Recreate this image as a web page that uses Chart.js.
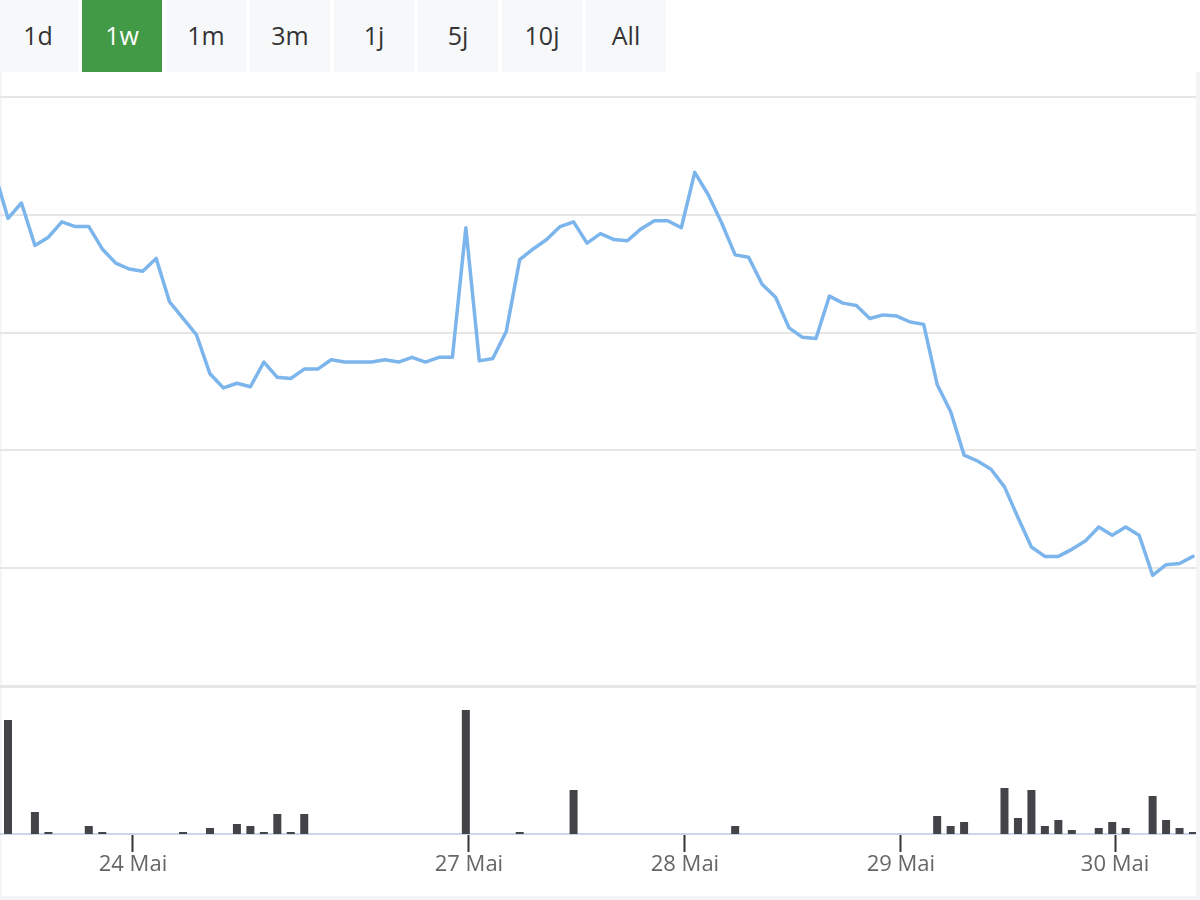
<!DOCTYPE html>
<html>
<head>
<meta charset="utf-8">
<script src="https://cdn.jsdelivr.net/npm/chart.js@4.4.1/dist/chart.umd.min.js"></script>
<style>
html,body{margin:0;padding:0;background:#fff;width:1200px;height:900px;overflow:hidden;font-family:"Open Sans",sans-serif;}
.b{position:absolute;top:0;height:72px;width:80px;background:#f7f8fa;color:#333;font-size:25px;line-height:71px;text-align:center;}
.b.on{background:#439a46;color:#fff;}
.edge{position:absolute;background:#f4f5f7;}
canvas{position:absolute;left:0;}
</style>
</head>
<body>
<div id="btns"></div>
<div class="edge" style="left:0;top:72px;width:2px;height:828px"></div>
<div class="edge" style="left:1196px;top:72px;width:4px;height:828px"></div>
<div class="edge" style="left:0;top:896px;width:1200px;height:4px"></div>
<canvas id="priceChart" width="1196" height="610" style="top:80px"></canvas>
<canvas id="volChart" width="1196" height="209" style="top:687px"></canvas>
<script>
// Range buttons
const rangeButtons = ['1d','1w','1m','3m','1j','5j','10j','All'];
const activeRange = '1w';

// Price series (first value is the point just left of the visible window), gridline units
const prices = [4.36,
  3.97,4.10,3.74,3.81,3.94,3.90,3.90,3.71,3.59,3.54,
  3.52,3.63,3.26,3.12,2.98,2.65,2.53,2.57,2.54,2.75,
  2.62,2.61,2.69,2.69,2.77,2.75,2.75,2.75,2.77,2.75,
  2.79,2.75,2.79,2.79,3.89,2.76,2.78,3.01,3.62,3.71,
  3.79,3.90,3.94,3.76,3.84,3.79,3.78,3.88,3.95,3.95,
  3.89,4.36,4.17,3.93,3.66,3.64,3.41,3.30,3.04,2.96,
  2.95,3.31,3.25,3.23,3.12,3.15,3.14,3.09,3.07,2.56,
  2.33,1.96,1.91,1.84,1.69,1.43,1.18,1.10,1.10,1.16,
  1.23,1.35,1.28,1.35,1.28,0.94,1.03,1.04,1.10];

// Volume series (one per visible price point)
const volumes = [114,0,22,2,0,0,8,2,0,0,
  0,0,0,2,0,6,0,10,8,2,
  20,2,20,0,0,0,0,0,0,0,
  0,0,0,0,124,0,0,0,2,0,
  0,0,44,0,0,0,0,0,0,0,
  0,0,0,0,8,0,0,0,0,0,
  0,0,0,0,0,0,0,0,0,18,
  8,12,0,0,46,16,44,8,14,4,
  0,6,12,6,0,38,14,6,2];

// Date ticks (position in point index units) and labels
const tickIndex = [9.28, 34.23, 50.27, 66.31, 82.21];
const tickLabels = ['24 Mai','27 Mai','28 Mai','29 Mai','30 Mai'];

const X_MIN = -0.594, X_MAX = 88.222;

const btns = document.getElementById('btns');
rangeButtons.forEach((t,i)=>{
  const d=document.createElement('div');
  d.className='b'+(t===activeRange?' on':'');
  d.style.left=(-2+i*84)+'px';
  d.textContent=t;
  btns.appendChild(d);
});

new Chart(document.getElementById('priceChart'),{
  type:'line',
  data:{datasets:[{
    data:prices.map((v,i)=>({x:i-1,y:v})),
    borderColor:'#7cb5ec',borderWidth:3.5,pointRadius:0,tension:0,fill:false,
    borderJoinStyle:'round',borderCapStyle:'round'
  }]},
  options:{
    responsive:false,animation:false,devicePixelRatio:1,
    layout:{padding:{top:17,bottom:4,left:0,right:0}},
    plugins:{legend:{display:false},tooltip:{enabled:false}},
    scales:{
      x:{type:'linear',min:X_MIN,max:X_MAX,display:false},
      y:{min:0,max:5,
        ticks:{display:false,stepSize:1},
        border:{display:false},
        grid:{color:'#e6e6e6',drawTicks:false,
          lineWidth:ctx=>(ctx.tick&&ctx.tick.value===0)?3:2}}
    }
  }
});

new Chart(document.getElementById('volChart'),{
  type:'bar',
  data:{datasets:[{
    data:volumes.map((v,i)=>({x:i,y:v>0?v:null})),
    backgroundColor:'#434348',borderWidth:0,barThickness:8,inflateAmount:0
  }]},
  options:{
    responsive:false,animation:false,devicePixelRatio:1,
    layout:{padding:0},
    plugins:{legend:{display:false},tooltip:{enabled:false}},
    scales:{
      x:{type:'linear',min:X_MIN,max:X_MAX,offset:false,z:1,
        afterBuildTicks:s=>{s.ticks=tickIndex.map(v=>({value:v}));},
        afterFit:s=>{s.height=62;},
        ticks:{callback:(v,i)=>tickLabels[i],color:'#666',
          font:{family:'Open Sans',size:22},padding:0,maxRotation:0,autoSkip:false},
        grid:{drawOnChartArea:false,offset:false,tickLength:18,tickColor:'#333',tickWidth:2},
        border:{color:'#ccd6eb',width:2}},
      y:{min:0,max:147,display:false}
    }
  }
});
</script>
</body>
</html>
